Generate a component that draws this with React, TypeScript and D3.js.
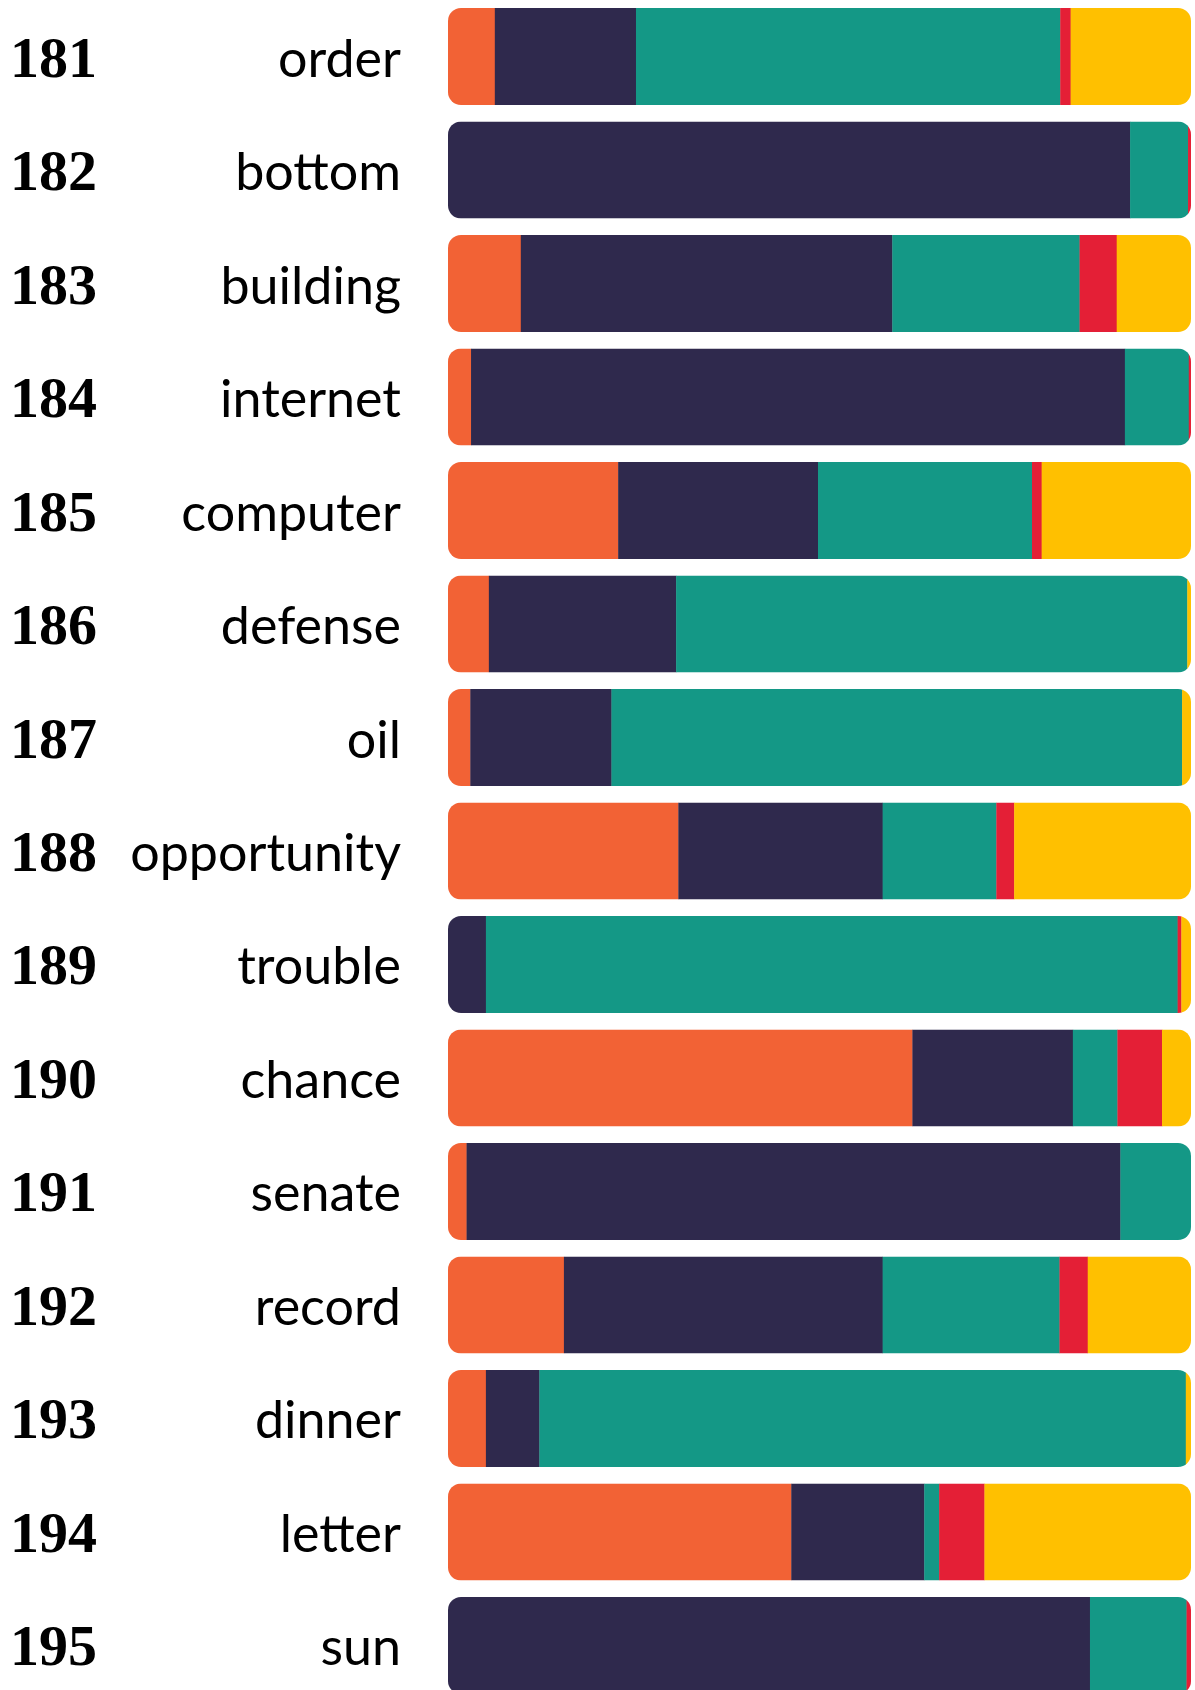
import { scaleBand, scaleLinear, scaleOrdinal, stack } from "d3";

// rank numbers and words, top to bottom
const ranks = [181, 182, 183, 184, 185, 186, 187, 188, 189, 190, 191, 192, 193, 194, 195];
const words = [
  "order", "bottom", "building", "internet", "computer", "defense", "oil",
  "opportunity", "trouble", "chance", "senate", "record", "dinner", "letter", "sun",
];

// share of each segment per word (percent)
const orange = [6.3, 0, 9.8, 3.1, 22.9, 5.5, 3.0, 31.0, 0, 62.5, 2.5, 15.6, 5.1, 46.2, 0];
const navy = [19.0, 91.8, 50.0, 88.0, 26.9, 25.2, 19.0, 27.5, 5.1, 21.6, 88.0, 42.9, 7.2, 17.9, 86.4];
const teal = [57.1, 7.8, 25.2, 8.6, 28.8, 68.8, 76.8, 15.3, 93.1, 6.0, 9.5, 23.8, 87.0, 2.0, 13.0];
const red = [1.4, 0.4, 5.0, 0.3, 1.3, 0, 0, 2.4, 0.5, 6.0, 0, 3.8, 0, 6.1, 0.6];
const yellow = [16.2, 0, 10.0, 0, 20.1, 0.5, 1.2, 23.8, 1.3, 3.9, 0, 13.9, 0.7, 27.8, 0];

const keys = ["orange", "navy", "teal", "red", "yellow"];
const colors = ["#f26235", "#2f294d", "#149886", "#e41f36", "#ffc000"];

const W = 1195;
const H = 1690;

export default function App() {
  const rows = words.map((w, i) => ({
    word: w,
    rank: ranks[i],
    orange: orange[i],
    navy: navy[i],
    teal: teal[i],
    red: red[i],
    yellow: yellow[i],
  }));

  const series = stack<(typeof rows)[number]>().keys(keys)(rows);

  const x = scaleLinear().domain([0, 100]).range([448, 1191]);
  const y = scaleBand()
    .domain(words)
    .range([8, 8 + words.length * 113.5 - 16.5])
    .paddingInner(0.145)
    .paddingOuter(0);
  const color = scaleOrdinal<string, string>().domain(keys).range(colors);
  const bw = y.bandwidth();

  return (
    <div style={{ position: "absolute", left: 0, top: 0 }}>
      <svg width={W} height={H} style={{ display: "block", background: "#fff" }}>
        <defs>
          {words.map((w, i) => (
            <clipPath id={`clip-${i}`} key={w}>
              <rect x={x(0)} y={y(w)} width={x(100) - x(0)} height={bw} rx={13} ry={13} />
            </clipPath>
          ))}
        </defs>

        {words.map((w, i) => (
          <g key={w} clipPath={`url(#clip-${i})`}>
            {series.map((s) => {
              const d = s[i];
              if (d[1] - d[0] <= 0) return null;
              return (
                <rect
                  key={s.key}
                  x={x(d[0])}
                  y={y(w)}
                  width={x(d[1]) - x(d[0]) + 0.3}
                  height={bw}
                  fill={color(s.key)}
                />
              );
            })}
          </g>
        ))}

        {rows.map((r) => {
          const cy = (y(r.word) ?? 0) + bw / 2 + 20;
          return (
            <g key={r.word}>
              <text
                x={10}
                y={cy}
                fontFamily="'Liberation Serif', 'DejaVu Serif', serif"
                fontWeight="bold"
                fontSize={58}
                fill="#000"
              >
                {r.rank}
              </text>
              <text
                x={401}
                y={cy}
                textAnchor="end"
                fontFamily="Lato, 'Open Sans', sans-serif"
                fontSize={52}
                fill="#000"
              >
                {r.word}
              </text>
            </g>
          );
        })}
      </svg>
    </div>
  );
}
